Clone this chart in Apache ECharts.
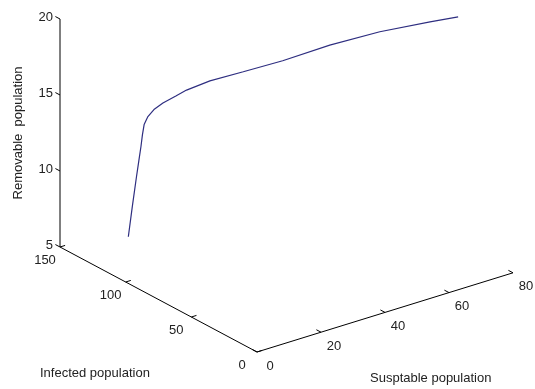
<!DOCTYPE html>
<html>
<head>
<meta charset="utf-8">
<script src="https://cdn.jsdelivr.net/npm/echarts@6/dist/echarts.min.js"></script>
<style>
  html, body { margin: 0; padding: 0; background: #fff; }
  #chart { width: 535px; height: 389px; }
</style>
</head>
<body>
<div id="chart"></div>
<script>
// tick values of the three axes
const sTicks = [0, 20, 40, 60, 80];
const iTicks = [0, 50, 100, 150];
const rTicks = [5, 10, 15, 20];

// trajectory
const susceptible = [14.5, 15.3, 16.1, 16.6, 17.0, 17.3, 17.63, 18.36, 19.55, 21.33, 23.89, 26.0, 30.6, 37.2, 45.0, 54.3, 64.2, 74.1, 79.6];
const infected    = [133.3, 132.2, 131.0, 130.4, 129.8, 129.4, 128.9, 127.8, 126.1, 123.6, 120.0, 117.0, 110.4, 101.1, 90.1, 76.9, 62.9, 48.8, 40.8];
const removable   = [5.5, 7.5, 9.45, 10.5, 11.42, 12.2, 12.88, 13.41, 13.87, 14.30, 14.76, 15.15, 15.76, 16.36, 17.08, 18.11, 18.99, 19.64, 19.98];

const S_MAX = 80, I_MAX = 150, R_MIN = 5, R_MAX = 20;

// simple fixed 3d view -> 2d plane
function project(s, i, r) {
    const u = s / S_MAX, v = i / I_MAX, w = (r - R_MIN) / (R_MAX - R_MIN);
    return [u * 256 - v * 197, u * 79.2 + v * 105 + w * 228];
}

const tickFont = '13px "Liberation Sans", Arial, sans-serif';
const nameFont = '13px "Liberation Sans", Arial, sans-serif';

var myChart = echarts.init(document.getElementById('chart'));

// ticks + tick labels for one axis
function tickSeries(values, toPoint, toTickEnd, dx, dy, align) {
    return {
        type: 'custom',
        silent: true,
        data: values.map(v => [v]),
        renderItem: function (params, api) {
            const v = api.value(0);
            const p = api.coord(toPoint(v));
            const q = api.coord(toTickEnd(v));
            return {
                type: 'group',
                children: [
                    { type: 'line', shape: { x1: p[0], y1: p[1], x2: q[0], y2: q[1] }, style: { stroke: '#000', lineWidth: 1 } },
                    { type: 'text', x: p[0] + dx, y: p[1] + dy, style: { text: String(v), font: tickFont, fill: '#222', align: align, verticalAlign: 'middle' } }
                ]
            };
        }
    };
}

var option = {
    animation: false,
    grid: { left: 0, right: 0, top: 0, bottom: 0 },
    xAxis: { type: 'value', min: -257, max: 278, show: false },
    yAxis: { type: 'value', min: -37, max: 352, show: false },
    graphic: [
        { type: 'text', x: 18, y: 133, rotation: Math.PI / 2, style: { text: 'Removable  population', font: nameFont, fill: '#222', align: 'center', verticalAlign: 'middle' } },
        { type: 'text', x: 40, y: 373, style: { text: 'Infected population', font: nameFont, fill: '#222', align: 'left', verticalAlign: 'middle' } },
        { type: 'text', x: 370, y: 378, style: { text: 'Susptable population', font: nameFont, fill: '#222', align: 'left', verticalAlign: 'middle' } }
    ],
    series: [
        {
            // the three axis lines
            type: 'line',
            silent: true,
            showSymbol: false,
            lineStyle: { color: '#000', width: 1 },
            data: [project(0, I_MAX, R_MAX), project(0, I_MAX, R_MIN), project(0, 0, R_MIN), project(S_MAX, 0, R_MIN)]
        },
        {
            type: 'line',
            smooth: false,
            showSymbol: false,
            lineStyle: { color: '#2e2e80', width: 1.2 },
            data: susceptible.map((s, k) => project(s, infected[k], removable[k]))
        },
        tickSeries(sTicks, v => project(v, 0, R_MIN), v => project(v, 3.5, R_MIN), 13, 14, 'center'),
        tickSeries(iTicks, v => project(0, v, R_MIN), v => project(1.6, v, R_MIN), -15, 13, 'center'),
        tickSeries(rTicks, v => project(0, I_MAX, v), v => project(0, I_MAX + 3.5, v), -7, -2, 'right')
    ]
};
myChart.setOption(option);
</script>
</body>
</html>
